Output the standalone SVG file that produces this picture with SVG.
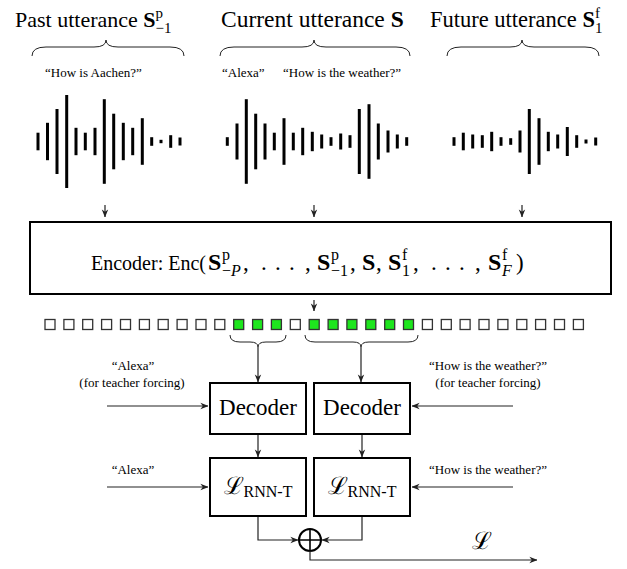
<svg xmlns="http://www.w3.org/2000/svg" width="627" height="569" viewBox="0 0 627 569">
<style>
.t{font-family:"Liberation Serif","DejaVu Serif",serif;fill:#000}
.b{font-weight:bold}
.bar{fill:#000}
.sq{fill:#fff;stroke:#333;stroke-width:1.3}
.g{fill:#1ee61e}
.box{fill:#fff;stroke:#000;stroke-width:2}
.ln{fill:none;stroke:#222;stroke-width:1.2}
.br{fill:none;stroke:#222;stroke-width:1}
</style>
<defs>
<marker id="ah" viewBox="0 0 10 10" refX="9.5" refY="5" markerWidth="8" markerHeight="8" markerUnits="userSpaceOnUse" orient="auto"><path d="M0,1 L10,5 L0,9 L3,5 z" fill="#222"/></marker>
</defs>
<rect width="627" height="569" fill="#fff"/>

<g id="titles">
<text class="t" x="15" y="27" font-size="22">Past utterance <tspan class="b">S</tspan><tspan font-size="15" dy="-9">p</tspan><tspan font-size="15" dx="-7.5" dy="15">−1</tspan></text>
<text class="t" x="221" y="27" font-size="23.5">Current utterance <tspan class="b">S</tspan></text>
<text class="t" x="430" y="27" font-size="22.5">Future utterance <tspan class="b">S</tspan><tspan font-size="15" dy="-9">f</tspan><tspan font-size="15" dx="-5" dy="15">1</tspan></text>
<path class="br" d="M32,56 Q32,47 46,47 L94,47 Q106,47 106,40 Q106,47 118,47 L170,47 Q184,47 184,56"/>
<path class="br" d="M220,56 Q220,47 234,47 L302,47 Q314,47 314,40 Q314,47 326,47 L396,47 Q410,47 410,56"/>
<path class="br" d="M447,56 Q447,47 461,47 L510,47 Q522,47 522,40 Q522,47 534,47 L585,47 Q599,47 599,56"/>
<text class="t" x="45" y="77" font-size="13">“How is Aachen?”</text>
<text class="t" x="222" y="77" font-size="13">“Alexa”</text>
<text class="t" x="283" y="77" font-size="13">“How is the weather?”</text>
</g>

<g id="wave-past">
<rect class="bar" x="36.5" y="132.7" width="3" height="17.6"/>
<rect class="bar" x="46" y="122.8" width="3" height="37.4"/>
<rect class="bar" x="55.5" y="109" width="3" height="65"/>
<rect class="bar" x="65.2" y="95" width="3" height="93"/>
<rect class="bar" x="74.5" y="127.8" width="3" height="27.4"/>
<rect class="bar" x="83.8" y="132.7" width="3" height="17.6"/>
<rect class="bar" x="93.5" y="127.8" width="3" height="27.4"/>
<rect class="bar" x="102.8" y="99.2" width="3" height="84.6"/>
<rect class="bar" x="112.2" y="113.7" width="3" height="55.6"/>
<rect class="bar" x="121.8" y="122.8" width="3" height="37.4"/>
<rect class="bar" x="131.2" y="127.8" width="3" height="27.4"/>
<rect class="bar" x="140.8" y="118.2" width="3" height="46.6"/>
<rect class="bar" x="150.2" y="137.2" width="3" height="8.6"/>
<rect class="bar" x="159.5" y="139.8" width="3" height="3.4"/>
<rect class="bar" x="169.2" y="135.2" width="3" height="12.6"/>
<rect class="bar" x="178.5" y="137.5" width="3" height="8"/>
</g>

<g id="wave-current">
<rect class="bar" x="225.8" y="137.2" width="3" height="8.6"/>
<rect class="bar" x="235.5" y="123.5" width="3" height="36"/>
<rect class="bar" x="244.8" y="99.2" width="3" height="84.6"/>
<rect class="bar" x="254.2" y="113.7" width="3" height="55.6"/>
<rect class="bar" x="263.5" y="123.5" width="3" height="36"/>
<rect class="bar" x="272.8" y="132.7" width="3" height="17.6"/>
<rect class="bar" x="282.5" y="118.2" width="3" height="46.6"/>
<rect class="bar" x="291.8" y="132.7" width="3" height="17.6"/>
<rect class="bar" x="301.2" y="127.8" width="3" height="27.4"/>
<rect class="bar" x="310.8" y="131.8" width="3" height="19.4"/>
<rect class="bar" x="320.2" y="134.5" width="3" height="14"/>
<rect class="bar" x="329.5" y="137.2" width="3" height="8.6"/>
<rect class="bar" x="339.2" y="133.5" width="3" height="16"/>
<rect class="bar" x="348.5" y="135.2" width="3" height="12.6"/>
<rect class="bar" x="357.8" y="109" width="3" height="65"/>
<rect class="bar" x="367.5" y="104.2" width="3" height="74.6"/>
<rect class="bar" x="376.8" y="123.5" width="3" height="36"/>
<rect class="bar" x="386.5" y="130.5" width="3" height="22"/>
<rect class="bar" x="395.8" y="134.5" width="3" height="14"/>
<rect class="bar" x="405.2" y="137.2" width="3" height="8.6"/>
</g>

<g id="wave-future">
<rect class="bar" x="452.5" y="137.2" width="3" height="8.6"/>
<rect class="bar" x="461.8" y="132.7" width="3" height="17.6"/>
<rect class="bar" x="471.2" y="134.5" width="3" height="14"/>
<rect class="bar" x="480.8" y="135.2" width="3" height="12.6"/>
<rect class="bar" x="490.2" y="131.8" width="3" height="19.4"/>
<rect class="bar" x="499.5" y="137.2" width="3" height="8.6"/>
<rect class="bar" x="509.2" y="138.2" width="3" height="6.6"/>
<rect class="bar" x="518.5" y="130.5" width="3" height="22"/>
<rect class="bar" x="527.8" y="109" width="3" height="65"/>
<rect class="bar" x="537.5" y="118.2" width="3" height="46.6"/>
<rect class="bar" x="546.8" y="131.8" width="3" height="19.4"/>
<rect class="bar" x="556.2" y="134.5" width="3" height="14"/>
<rect class="bar" x="565.8" y="127" width="3" height="29"/>
<rect class="bar" x="575.2" y="135.2" width="3" height="12.6"/>
<rect class="bar" x="584.5" y="139.5" width="3" height="4"/>
<rect class="bar" x="594.2" y="137.5" width="3" height="8"/>
</g>

<g id="encoder">
<rect class="box" x="30" y="222" width="581" height="72"/>
<text class="t" font-size="23"><tspan x="91" y="270" font-size="20">Encoder: Enc(</tspan><tspan class="b" font-size="24" x="208" y="270">S</tspan><tspan font-size="16" x="222" y="260">p</tspan><tspan font-size="16" x="222" y="276">−<tspan font-style="italic">P</tspan></tspan><tspan x="243" y="270">,</tspan><tspan x="261" y="270">.</tspan><tspan x="275" y="270">.</tspan><tspan x="289" y="270">.</tspan><tspan x="305" y="270">,</tspan><tspan class="b" font-size="24" x="317" y="270">S</tspan><tspan font-size="16" x="331" y="260">p</tspan><tspan font-size="16" x="331" y="276">−1</tspan><tspan x="350" y="270">,</tspan><tspan class="b" font-size="24" x="362" y="270">S</tspan><tspan x="376" y="270">,</tspan><tspan class="b" font-size="24" x="388" y="270">S</tspan><tspan font-size="16" x="402" y="260">f</tspan><tspan font-size="16" x="402" y="276">1</tspan><tspan x="413" y="270">,</tspan><tspan x="431" y="270">.</tspan><tspan x="445" y="270">.</tspan><tspan x="459" y="270">.</tspan><tspan x="475" y="270">,</tspan><tspan class="b" font-size="24" x="488" y="270">S</tspan><tspan font-size="16" x="502" y="260">f</tspan><tspan font-size="16" font-style="italic" x="502" y="276">F</tspan><tspan x="516" y="270">)</tspan></text>
</g>

<g id="frames">
<rect class="sq" x="45" y="319.5" width="10" height="10"/>
<rect class="sq" x="63.9" y="319.5" width="10" height="10"/>
<rect class="sq" x="82.7" y="319.5" width="10" height="10"/>
<rect class="sq" x="101.6" y="319.5" width="10" height="10"/>
<rect class="sq" x="120.5" y="319.5" width="10" height="10"/>
<rect class="sq" x="139.4" y="319.5" width="10" height="10"/>
<rect class="sq" x="158.2" y="319.5" width="10" height="10"/>
<rect class="sq" x="177.1" y="319.5" width="10" height="10"/>
<rect class="sq" x="196" y="319.5" width="10" height="10"/>
<rect class="sq" x="214.8" y="319.5" width="10" height="10"/>
<rect class="sq g" x="233.7" y="319.5" width="10" height="10"/>
<rect class="sq g" x="252.6" y="319.5" width="10" height="10"/>
<rect class="sq g" x="271.4" y="319.5" width="10" height="10"/>
<rect class="sq" x="290.3" y="319.5" width="10" height="10"/>
<rect class="sq g" x="309.2" y="319.5" width="10" height="10"/>
<rect class="sq g" x="328.1" y="319.5" width="10" height="10"/>
<rect class="sq g" x="346.9" y="319.5" width="10" height="10"/>
<rect class="sq g" x="365.8" y="319.5" width="10" height="10"/>
<rect class="sq g" x="384.7" y="319.5" width="10" height="10"/>
<rect class="sq g" x="403.5" y="319.5" width="10" height="10"/>
<rect class="sq" x="422.4" y="319.5" width="10" height="10"/>
<rect class="sq" x="441.3" y="319.5" width="10" height="10"/>
<rect class="sq" x="460.1" y="319.5" width="10" height="10"/>
<rect class="sq" x="479" y="319.5" width="10" height="10"/>
<rect class="sq" x="497.9" y="319.5" width="10" height="10"/>
<rect class="sq" x="516.8" y="319.5" width="10" height="10"/>
<rect class="sq" x="535.6" y="319.5" width="10" height="10"/>
<rect class="sq" x="554.5" y="319.5" width="10" height="10"/>
<rect class="sq" x="573.4" y="319.5" width="10" height="10"/>
<path class="br" d="M230,335 Q230,342 240,342 L250,342 Q258,342 258,347 Q258,342 266,342 L276,342 Q286,342 286,335"/>
<path class="br" d="M305,335 Q305,342 315,342 L353,342 Q361,342 361,347 Q361,342 369,342 L408,342 Q418,342 418,335"/>
</g>

<g id="decoder1">
<rect class="box" x="210" y="383" width="96" height="51"/>
<text class="t" x="258" y="415" font-size="23" text-anchor="middle">Decoder</text>
</g>
<g id="decoder2">
<rect class="box" x="314" y="383" width="96" height="51"/>
<text class="t" x="362" y="415" font-size="23" text-anchor="middle">Decoder</text>
</g>
<g id="loss1">
<rect class="box" x="210" y="458" width="96" height="58"/>
<text class="t" x="258" y="494" text-anchor="middle"><tspan font-size="24">ℒ</tspan><tspan font-size="16" dy="3">RNN-T</tspan></text>
</g>
<g id="loss2">
<rect class="box" x="314" y="458" width="96" height="58"/>
<text class="t" x="362" y="494" text-anchor="middle"><tspan font-size="24">ℒ</tspan><tspan font-size="16" dy="3">RNN-T</tspan></text>
</g>
<g id="sum">
<circle cx="310" cy="540" r="11" fill="#fff" stroke="#000" stroke-width="2"/>
<path d="M300,540 H320 M310,530 V550" stroke="#000" stroke-width="1.6"/>
</g>

<g id="labels">
<text class="t" x="133" y="370" font-size="13" text-anchor="middle">“Alexa”</text>
<text class="t" x="132" y="387" font-size="13" text-anchor="middle">(for teacher forcing)</text>
<text class="t" x="488" y="370" font-size="13" text-anchor="middle">“How is the weather?”</text>
<text class="t" x="488" y="387" font-size="13" text-anchor="middle">(for teacher forcing)</text>
<text class="t" x="133" y="474" font-size="13" text-anchor="middle">“Alexa”</text>
<text class="t" x="488" y="474" font-size="13" text-anchor="middle">“How is the weather?”</text>
<text class="t" x="472" y="549" font-size="24">ℒ</text>
</g>

<g id="connectors">
<line class="ln" x1="105" y1="205" x2="105" y2="217" marker-end="url(#ah)"/>
<line class="ln" x1="314" y1="205" x2="314" y2="217" marker-end="url(#ah)"/>
<line class="ln" x1="522" y1="205" x2="522" y2="217" marker-end="url(#ah)"/>
<line class="ln" x1="314" y1="300" x2="314" y2="311" marker-end="url(#ah)"/>
<line class="ln" x1="258" y1="347" x2="258" y2="382" marker-end="url(#ah)"/>
<line class="ln" x1="361" y1="347" x2="361" y2="382" marker-end="url(#ah)"/>
<line class="ln" x1="107" y1="406" x2="208" y2="406" marker-end="url(#ah)"/>
<line class="ln" x1="513" y1="406" x2="412" y2="406" marker-end="url(#ah)"/>
<line class="ln" x1="258" y1="435" x2="258" y2="457" marker-end="url(#ah)"/>
<line class="ln" x1="362" y1="435" x2="362" y2="457" marker-end="url(#ah)"/>
<line class="ln" x1="107" y1="487" x2="208" y2="487" marker-end="url(#ah)"/>
<line class="ln" x1="513" y1="487" x2="412" y2="487" marker-end="url(#ah)"/>
<path class="ln" d="M258,517 V540 H298" marker-end="url(#ah)"/>
<path class="ln" d="M362,517 V540 H322" marker-end="url(#ah)"/>
<path class="ln" d="M310,551 V560 H537" marker-end="url(#ah)"/>
</g>
</svg>
